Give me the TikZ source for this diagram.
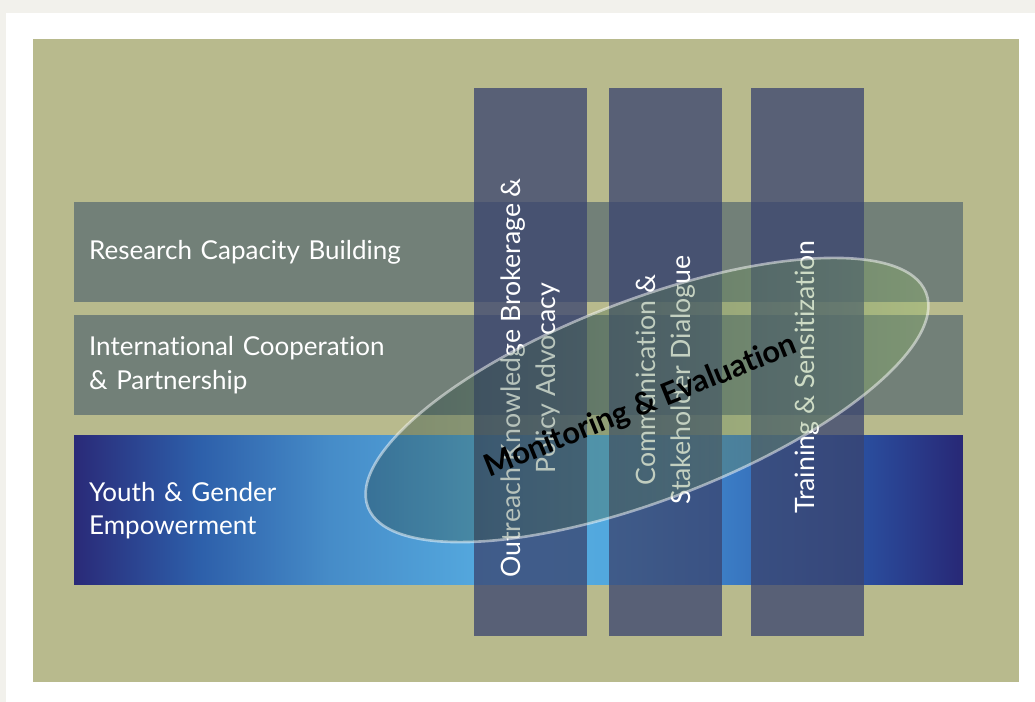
\documentclass[tikz,border=0pt]{standalone}
\usepackage{fontspec}
\setmainfont{Lato}[Ligatures=CommonOff]
\usepackage{tikz}
\usetikzlibrary{shapes.geometric, positioning}

% colours
\definecolor{pagegrey}{RGB}{242,241,236}
\definecolor{olive}{RGB}{184,186,141}
\definecolor{slate}{RGB}{114,128,120}
\definecolor{pillarblue}{RGB}{58,68,111}
\definecolor{navyend}{RGB}{42,42,120}
\definecolor{bandmid}{RGB}{45,95,170}
\definecolor{bandlight}{RGB}{70,140,200}
\definecolor{bandsky}{RGB}{86,172,225}
\definecolor{bandsky2}{RGB}{82,168,222}
\definecolor{bandback}{RGB}{58,122,195}
\definecolor{bandright}{RGB}{42,78,158}
\definecolor{navyright}{RGB}{40,40,118}
\definecolor{evaldark}{RGB}{25,55,58}
\definecolor{evalgreen}{RGB}{150,190,110}

% blue band: dark at both ends, light in the middle
\pgfdeclarehorizontalshading{youthband}{100bp}{color(0bp)=(navyend); color(25bp)=(navyend);
  color(32bp)=(bandmid); color(39.4bp)=(bandlight); color(49bp)=(bandsky);
  color(55bp)=(bandsky2); color(62bp)=(bandback); color(69.4bp)=(bandright);
  color(75bp)=(navyright); color(100bp)=(navyright)}

\begin{document}
\begin{tikzpicture}[x=0.02cm, y=-0.02cm]
        % styles
        \tikzstyle{hband} = [rectangle, outer sep=0pt, inner xsep=0.3cm, minimum width=17.78cm,
                              text width=17.18cm, align=left, text=white, font=\fontsize{14.8}{19}\selectfont]
        \tikzstyle{pillar} = [rectangle, outer sep=0pt, fill=pillarblue, fill opacity=0.76,
                              minimum width=2.26cm, minimum height=10.96cm]
        \tikzstyle{pillartext} = [rotate=90, align=center, text=white, font=\fontsize{15.2}{20}\selectfont]
        \tikzstyle{bubble} = [ellipse, outer sep=0pt, minimum width=11.96cm, minimum height=4cm,
                              shade, left color=evaldark, right color=evalgreen, fill opacity=0.37,
                              draw=white, draw opacity=0.5, line width=1.5pt]

        % page and panel
        \useasboundingbox (0,0) rectangle (1035,702);
        \fill[pagegrey] (0,0) rectangle (1035,702);
        \fill[white] (6,13) rectangle (1035,702);
        \fill[olive] (33,39) rectangle (1019,682);

        % horizontal bands
        \node[hband, fill=slate, minimum height=2cm] (research) at (518.5,252) {Research Capacity Building};
        \node[hband, fill=slate, minimum height=2cm, below=0.26cm of research] (intl)
            {International Cooperation\\\& Partnership};
        \node[hband, shading=youthband, minimum height=2.98cm, below=0.42cm of intl] (youth)
            {Youth \& Gender\\Empowerment};

        % vertical pillars
        \node[pillar] (outreach) at (530.5,362) {};
        \node[pillar, right=0.44cm of outreach] (comm) {};
        \node[pillar, right=0.58cm of comm] (training) {};

        \node[pillartext] (outreachtext) at ([yshift=-0.32cm]outreach.center)
            {Outreach Knowledge Brokerage \&\\Policy Advocacy};
        \node[pillartext] (commtext) at ([yshift=-0.36cm]comm.center)
            {Communication \&\\Stakeholder Dialogue};
        \node[pillartext] (trainingtext) at ([yshift=-0.3cm]training.center)
            {Training \& Sensitization};

        % monitoring ellipse on top
        \node[bubble, rotate=21] (monitor) at (647,400) {};
        \node[rotate=22, font=\fontsize{17.5}{20}\selectfont\bfseries] (monitortext) at (641,407)
            {Monitoring \& Evaluation};
    \end{tikzpicture}
\end{document}
